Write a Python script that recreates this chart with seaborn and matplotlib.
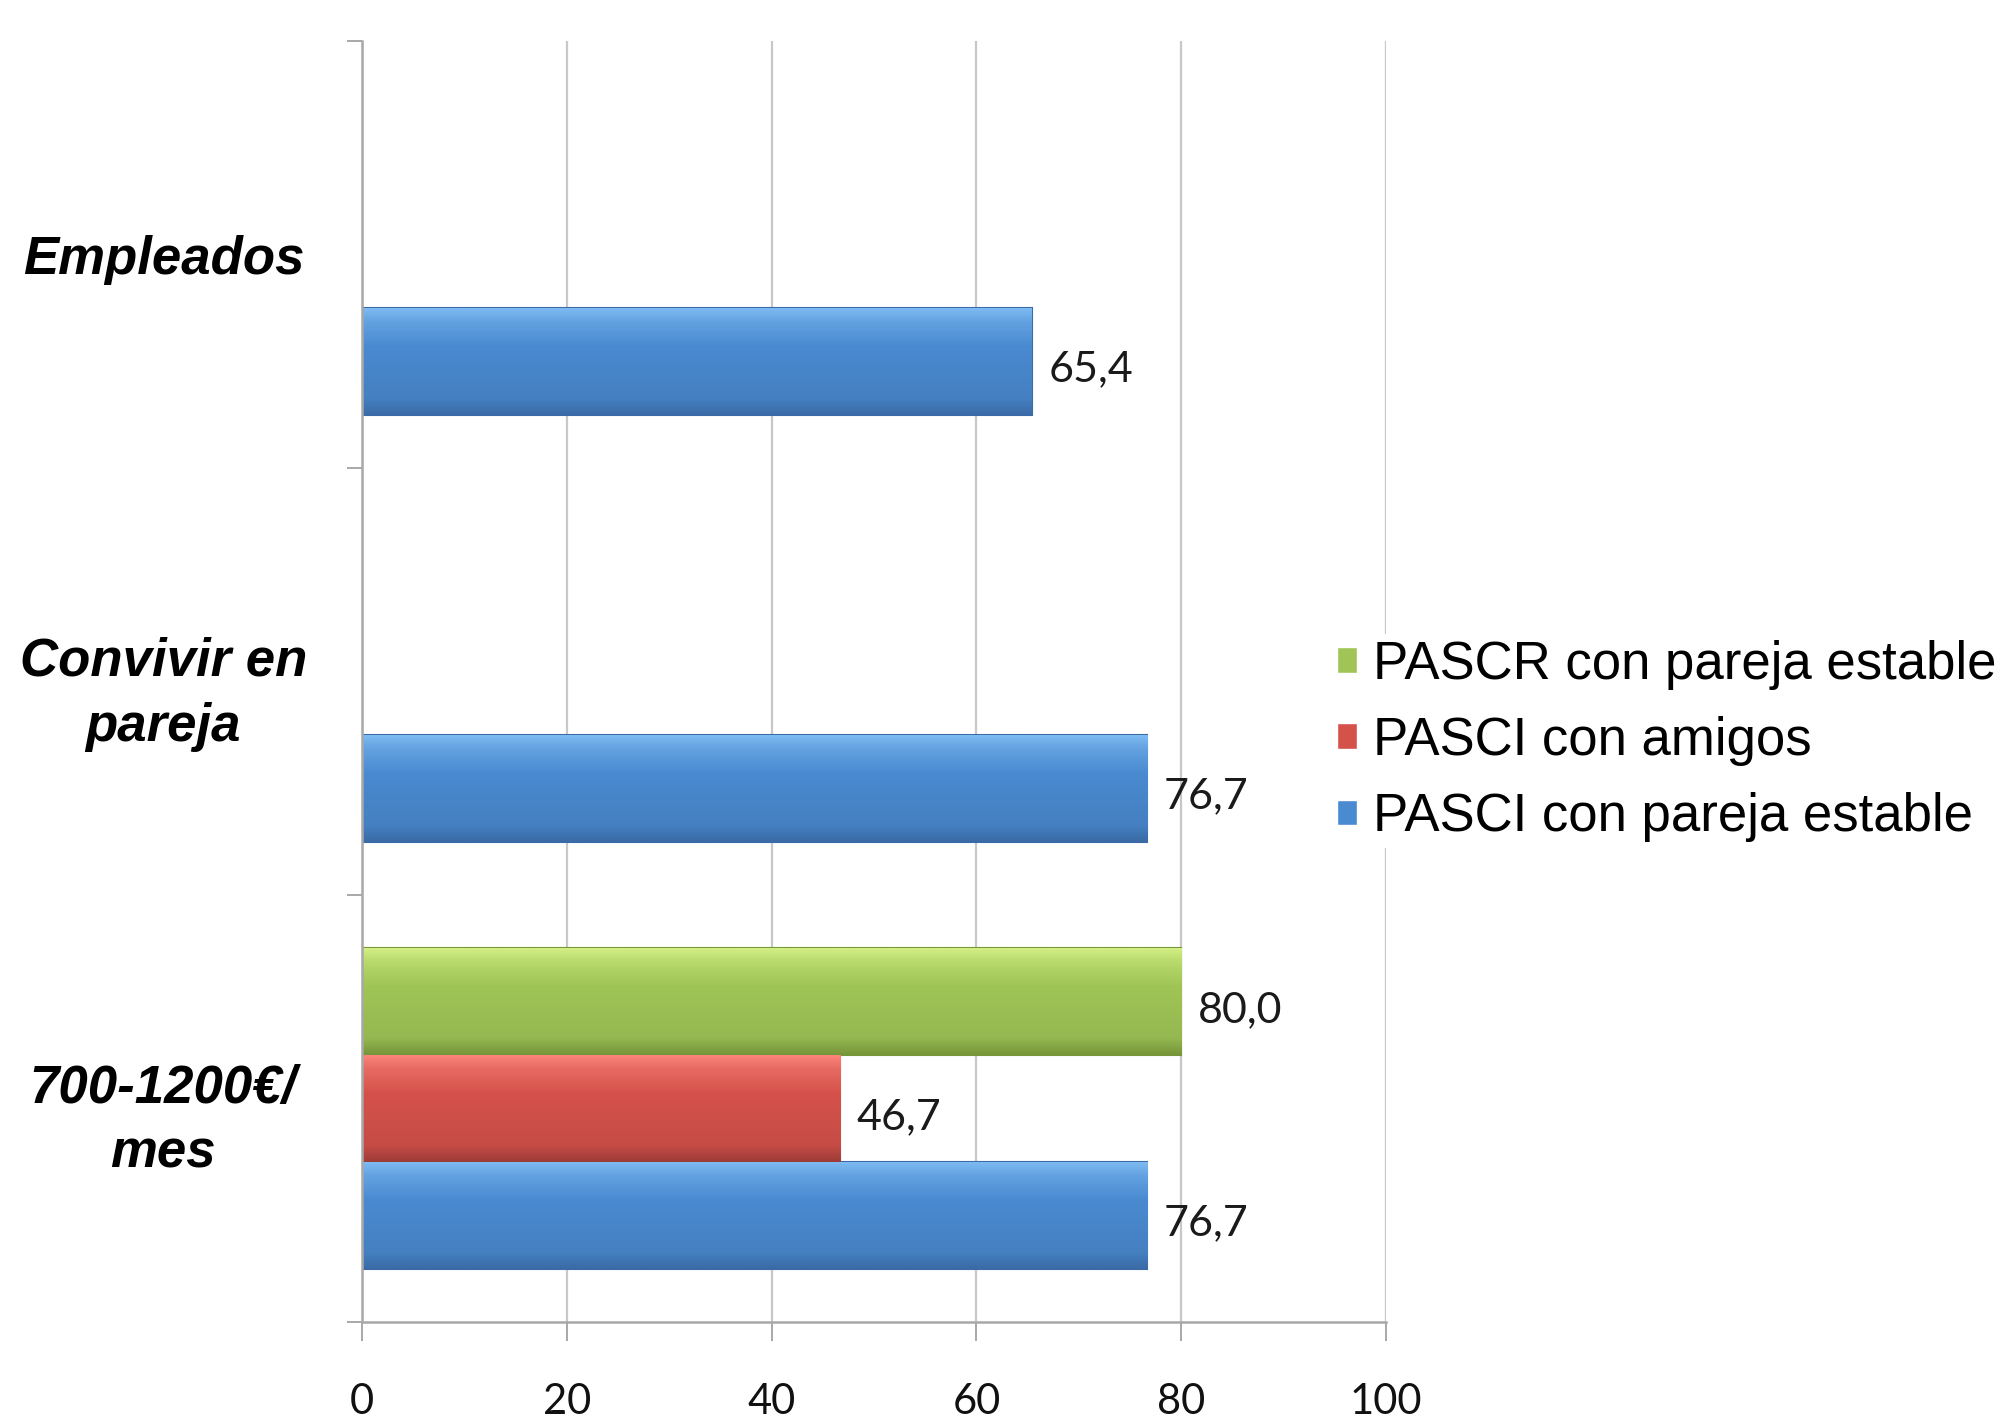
import numpy as np
import pandas as pd
import matplotlib
matplotlib.use("Agg")
import matplotlib.pyplot as plt
import seaborn as sns
from matplotlib.colors import to_rgb

# ---- data ----
categories = ["Empleados", "Convivir en\npareja", "700-1200€/\nmes"]
series_names = ["PASCR con pareja estable", "PASCI con amigos", "PASCI con pareja estable"]
pascr_pareja = [np.nan, np.nan, 80.0]
pasci_amigos = [np.nan, np.nan, 46.7]
pasci_pareja = [65.4, 76.7, 76.7]
x_ticks = [0, 20, 40, 60, 80, 100]

colors = ["#A0C556", "#D5524B", "#4A8AD0"]
light_colors = ["#D2EE84", "#FA8379", "#7DBAF2"]
dark_colors = ["#76963A", "#9E3C37", "#3A6BA6"]

rows = []
for s, vals in zip(series_names, [pascr_pareja, pasci_amigos, pasci_pareja]):
    for c, v in zip(categories, vals):
        rows.append({"cat": c, "series": s, "value": v})
df = pd.DataFrame(rows).dropna()

sns.set_theme(style="white")
plt.rcParams["font.family"] = ["Lato", "DejaVu Sans"]

fig = plt.figure(figsize=(20.14, 14.18), dpi=100)
ax = fig.add_axes([362 / 2014, 1 - 1322 / 1418, (1386 - 362) / 2014, (1322 - 41) / 1418])

sns.barplot(data=df, y="cat", x="value", hue="series", order=categories,
            hue_order=series_names, palette=colors, orient="h", width=0.75,
            dodge=True, ax=ax, saturation=1, errorbar=None, legend=True)

ax.set_xlim(0, 100)
ax.set_ylim(2.5, -0.5)

# bevel-like vertical gradient clipped to each bar
stops = [0.0, 0.12, 0.35, 0.85, 1.0]
for cont, base, lt, dk in zip(ax.containers, colors, light_colors, dark_colors):
    b, l_, d_ = np.array(to_rgb(base)), np.array(to_rgb(lt)), np.array(to_rgb(dk))
    cols = [l_, (l_ + b) / 2, b, b * 0.93, d_]
    t = np.linspace(0, 1, 64)
    grad = np.stack([np.interp(t, stops, [c[i] for c in cols]) for i in range(3)], axis=-1)
    grad = grad[:, None, :]
    for p in cont:
        if not np.isfinite(p.get_width()) or p.get_width() == 0:
            continue
        x0, y0, w, h = p.get_x(), p.get_y(), p.get_width(), p.get_height()
        im = ax.imshow(grad, extent=(x0, x0 + w, y0 + h, y0), origin="upper",
                       aspect="auto", interpolation="bilinear", zorder=p.get_zorder() + 0.1)
        im.set_clip_path(p)
        p.set_edgecolor(dk)
        p.set_linewidth(1.5)
    anns = ax.bar_label(cont, labels=[f"{v:.1f}".replace(".", ",") for v in cont.datavalues],
                        padding=12, fontsize=31, color="#1a1a1a",
                        family=["Lato", "DejaVu Sans"])
    for a in anns:
        a.xyann = (a.xyann[0], -6)

ax.set_xlim(0, 100)
ax.set_ylim(2.5, -0.5)
ax.set_xticks(x_ticks)
ax.set_xticklabels([str(t) for t in x_ticks], fontsize=30, color="#111111")
ax.set_xlabel("")
ax.set_ylabel("")

ax.grid(axis="x", color="#C8C8C8", linewidth=1.6)
ax.grid(axis="y", visible=False)
ax.set_axisbelow(True)

for s in ["top", "right"]:
    ax.spines[s].set_visible(False)
for s in ["left", "bottom"]:
    ax.spines[s].set_color("#A8A8A8")
    ax.spines[s].set_linewidth(1.8)

ax.tick_params(axis="x", which="major", direction="out", length=14, width=1.4,
               color="#A8A8A8", pad=30, bottom=True)
ax.set_yticks([0, 1, 2])
ax.set_yticklabels(categories)
ax.set_yticks([-0.5, 0.5, 1.5, 2.5], minor=True)
ax.tick_params(axis="y", which="major", length=0, pad=143)
ax.tick_params(axis="y", which="minor", direction="out", length=11, width=1.4,
               color="#A8A8A8", left=True)
for lbl in ax.get_yticklabels():
    lbl.set_fontfamily(["Liberation Sans", "DejaVu Sans"])
    lbl.set_fontweight("bold")
    lbl.set_fontstyle("italic")
    lbl.set_fontsize(38)
    lbl.set_color("black")
    lbl.set_ha("center")
    lbl.set_multialignment("center")
    lbl.set_linespacing(1.38)

handles, labels = ax.get_legend_handles_labels()
ax.legend_.remove()
leg = fig.legend(handles, labels, loc="center left",
                 bbox_to_anchor=(1332 / 2014, 1 - 741 / 1418),
                 frameon=True, facecolor="white", edgecolor="none", framealpha=1,
                 handlelength=0.38, handleheight=0.38,
                 handletextpad=0.3, labelspacing=0.5, borderpad=0.1,
                 borderaxespad=0, prop={"family": ["Liberation Sans", "DejaVu Sans"], "size": 38})
for t in leg.get_texts():
    t.set_color("black")

fig.savefig("out.png", dpi=100)
